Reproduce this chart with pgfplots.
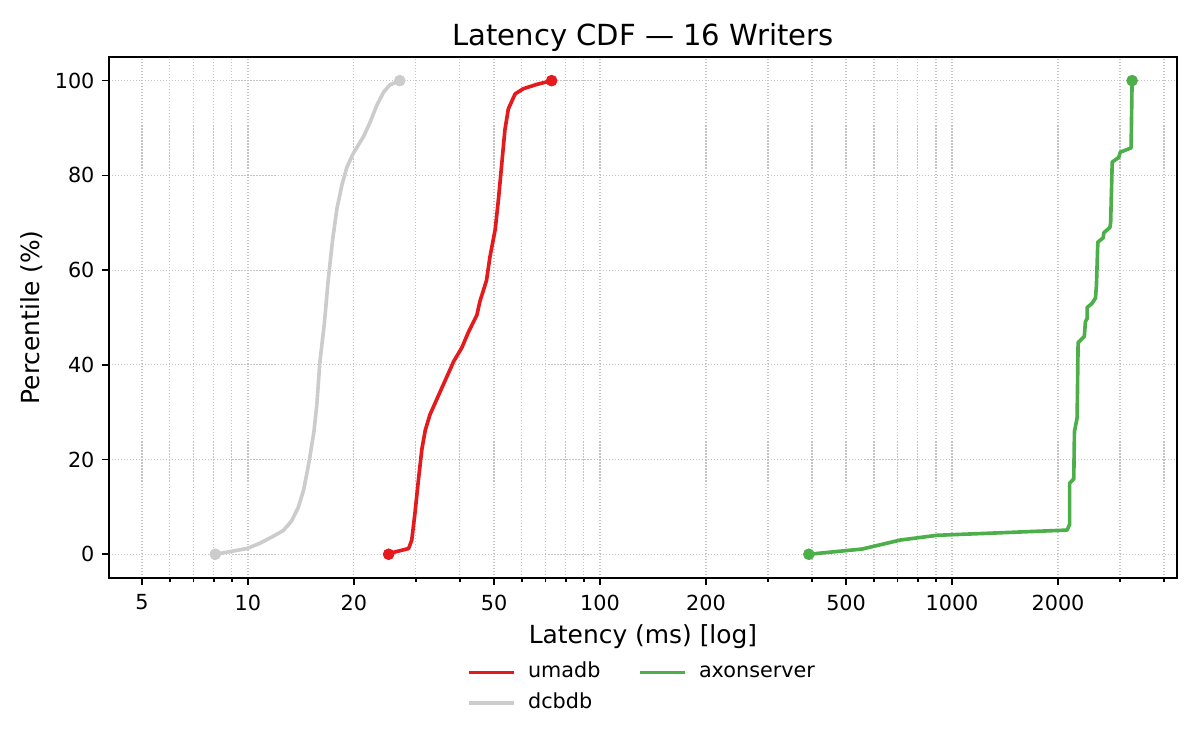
\documentclass[border=0pt]{standalone}
\usepackage{pgfplots}
\usepackage{pgfplotstable}
\usepackage{fontspec}
\setmainfont{DejaVu Sans}
\pgfplotsset{compat=1.18}
\definecolor{cred}{HTML}{E41A1C}
\definecolor{cgreen}{HTML}{4DAF4A}
\definecolor{cgrey}{HTML}{CCCCCC}
\definecolor{cgrid}{HTML}{C4C4C4}

\pgfplotstableread{
x y
25.1 0
25.9 0.4
28.6 1.2
29.2 3
29.8 8.5
30.5 15.7
31.2 22.2
31.9 26.2
32.9 29.5
35.1 34.2
37.1 38.2
38.4 40.7
40.5 43.6
42.3 46.9
44.7 50.5
45.6 53.4
47.6 57.8
48.7 62.8
50.4 68.6
51.5 75.1
52.6 82.4
53.7 89.6
54.9 94
57.4 97.2
60.6 98.3
66.1 99.2
72.9 100
}\umadb

\pgfplotstableread{
x y
8.08 0
9.93 1.2
10.8 2.3
11.8 3.8
12.6 5
13.3 7
13.9 9.9
14.4 13.6
14.9 19.3
15.4 25.9
15.7 31.7
16.0 40.4
16.5 49
16.9 57.8
17.4 66.4
17.9 73
18.5 78
19.1 81.7
19.9 84.6
21.3 88.2
22.2 91.1
23.2 94.7
24.3 97.6
25.3 99.1
27.0 100
}\dcbdb

\pgfplotstableread{
x y
392 0
555 1.1
625 2
713 3
906 4
2122 5.1
2158 6.3
2158 15
2217 15.9
2227 25.9
2266 28.8
2281 44.7
2376 46
2392 49.1
2420 49.8
2420 52.1
2500 53
2555 54.1
2571 56.7
2595 65.9
2687 66.8
2700 67.9
2808 69
2822 70.1
2851 82.8
2975 83.8
3006 84.9
3226 85.8
3247 100
}\axon

\pgfplotstableread{
x y
25.1 0
72.9 100
}\umadbEnds
\pgfplotstableread{
x y
8.08 0
27.0 100
}\dcbdbEnds
\pgfplotstableread{
x y
392 0
3247 100
}\axonEnds

\begin{document}
\begin{tikzpicture}
\path[use as bounding box] (0,0) rectangle (578.16pt,361.35pt);
\begin{axis}[
  at={(52.5pt,82.9pt)}, anchor=south west,
  scale only axis, width=514.6pt, height=251pt,
  xmode=log, xmin=4.03, xmax=4357, ymin=-5, ymax=105,
  xtick={5,10,20,50,100,200,500,1000,2000},
  xticklabels={5,10,20,50,100,200,500,1000,2000},
  minor xtick={4,6,7,8,9,30,40,60,70,80,90,300,400,600,700,800,900,3000,4000},
  ytick={0,20,40,60,80,100},
  yticklabels={0,20,40,60,80,100},
  tick align=outside, tick pos=left,
  major tick length=3.5pt, minor tick length=2pt,
  every tick/.style={black, line width=0.8pt},
  axis line style={black, line width=0.8pt},
  xmajorgrids, xminorgrids, ymajorgrids,
  major grid style={cgrid, line width=0.55pt, dash pattern=on 0.55pt off 0.9pt},
  minor grid style={cgrid, line width=0.55pt, dash pattern=on 0.55pt off 0.9pt},
  ticklabel style={font=\fontsize{10}{12}\selectfont},
  xticklabel style={yshift=-1pt},
  title={Latency CDF — 16 Writers},
  title style={font=\fontsize{14}{16}\selectfont, yshift=-7pt},
  xlabel={Latency (ms) [log]},
  ylabel={Percentile (\%)},
  ylabel style={yshift=-1pt},
  label style={font=\fontsize{12}{14}\selectfont},
  legend columns=2,
  legend style={at={(0.5,-0.145)}, anchor=north, draw=none, fill=none,
    font=\fontsize{10}{12}\selectfont,
    nodes={text height=7.6pt, text depth=2.2pt},
    /tikz/every odd column/.append style={column sep=4pt},
    /tikz/every even column/.append style={column sep=16pt},
    row sep=1pt},
  legend cell align=left,
  legend image code/.code={\draw[#1] (0pt,0pt) -- (21.7pt,0pt);},
  clip=false,
]
\addplot[cred, line width=1.75pt, line join=round] table {\umadb};
\addlegendentry{umadb}
\addplot[cgreen, line width=1.75pt, line join=round] table {\axon};
\addlegendentry{axonserver}
\addplot[cgrey, line width=1.75pt, line join=round] table {\dcbdb};
\addlegendentry{dcbdb}
\addplot[only marks, mark=*, mark size=2.6pt, cred, forget plot] table {\umadbEnds};
\addplot[only marks, mark=*, mark size=2.6pt, cgreen, forget plot] table {\axonEnds};
\addplot[only marks, mark=*, mark size=2.6pt, cgrey, forget plot] table {\dcbdbEnds};
\end{axis}
\end{tikzpicture}
\end{document}
